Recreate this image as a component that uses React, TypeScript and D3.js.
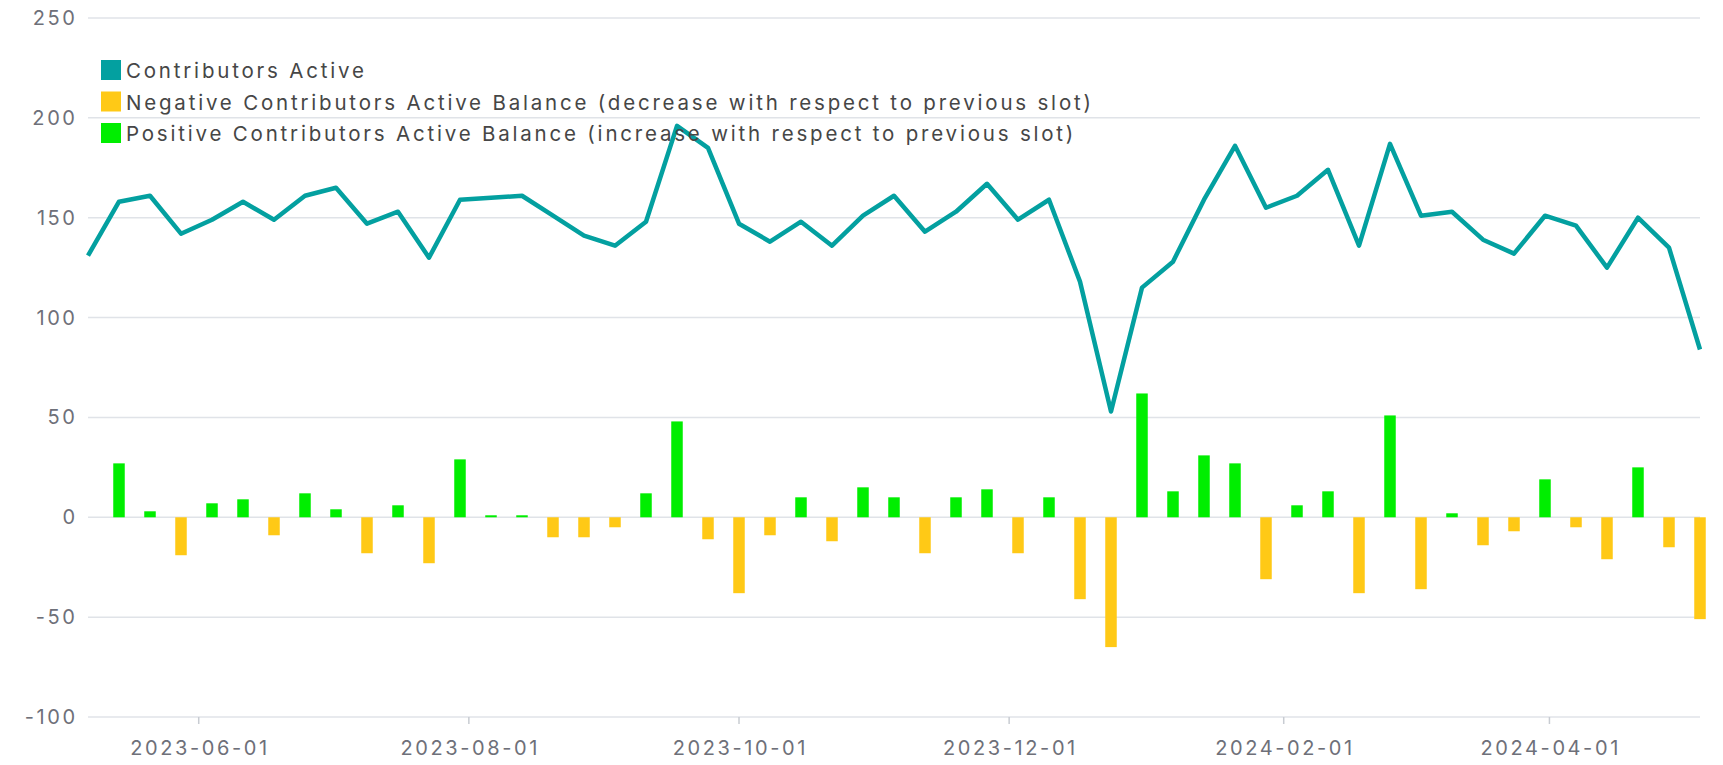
import React from "react";
import * as d3 from "d3";

// weekly slots
const dates = [
  "2023-05-07", "2023-05-14", "2023-05-21", "2023-05-28", "2023-06-04", "2023-06-11", "2023-06-18",
  "2023-06-25", "2023-07-02", "2023-07-09", "2023-07-16", "2023-07-23", "2023-07-30", "2023-08-06",
  "2023-08-13", "2023-08-20", "2023-08-27", "2023-09-03", "2023-09-10", "2023-09-17", "2023-09-24",
  "2023-10-01", "2023-10-08", "2023-10-15", "2023-10-22", "2023-10-29", "2023-11-05", "2023-11-12",
  "2023-11-19", "2023-11-26", "2023-12-03", "2023-12-10", "2023-12-17", "2023-12-24", "2023-12-31",
  "2024-01-07", "2024-01-14", "2024-01-21", "2024-01-28", "2024-02-04", "2024-02-11", "2024-02-18",
  "2024-02-25", "2024-03-03", "2024-03-10", "2024-03-17", "2024-03-24", "2024-03-31", "2024-04-07",
  "2024-04-14", "2024-04-21", "2024-04-28", "2024-05-05",
];

const contributorsActive = [
  131, 158, 161, 142, 149, 158, 149, 161, 165, 147, 153, 130, 159, 160, 161, 151, 141, 136, 148, 196,
  185, 147, 138, 148, 136, 151, 161, 143, 153, 167, 149, 159, 118, 53, 115, 128, 159, 186, 155, 161,
  174, 136, 187, 151, 153, 139, 132, 151, 146, 125, 150, 135, 84,
];

// balance vs previous slot, starts at dates[1]
const balance = [
  27, 3, -19, 7, 9, -9, 12, 4, -18, 6, -23, 29, 1, 1, -10, -10, -5, 12, 48, -11, -38, -9, 10, -12, 15,
  10, -18, 10, 14, -18, 10, -41, -65, 62, 13, 31, 27, -31, 6, 13, -38, 51, -36, 2, -14, -7, 19, -5,
  -21, 25, -15, -51,
];

const yTicks = [250, 200, 150, 100, 50, 0, -50, -100];
const xTickLabels = ["2023-06-01", "2023-08-01", "2023-10-01", "2023-12-01", "2024-02-01", "2024-04-01"];

const legendItems = [
  { name: "Contributors Active", color: "#03A0A0" },
  { name: "Negative Contributors Active Balance (decrease with respect to previous slot)", color: "#FFC916" },
  { name: "Positive Contributors Active Balance (increase with respect to previous slot)", color: "#00EE00" },
];

const W = 1723;
const H = 765;
const margin = { top: 18, right: 23, bottom: 48, left: 88 };

export default function App() {
  const parse = d3.timeParse("%Y-%m-%d");
  const x = d3
    .scaleTime()
    .domain([parse(dates[0]), parse(dates[dates.length - 1])])
    .range([margin.left, W - margin.right]);
  const y = d3.scaleLinear().domain([-100, 250]).range([H - margin.bottom, margin.top]);

  const line = d3
    .line<number>()
    .x((d, i) => x(parse(dates[i])))
    .y((d) => y(d));

  const barW = 11.5;
  const font = "Inter, 'Noto Sans', sans-serif";
  const ls = 2.6; // the reference text is spaced out

  return (
    <svg
      width={W}
      height={H}
      style={{ position: "absolute", left: 0, top: 0, background: "#fff" }}
      fontFamily={font}
      letterSpacing={ls}
    >
      {/* grid */}
      {yTicks.map((t) => (
        <g key={t}>
          <line x1={margin.left} x2={W - margin.right} y1={y(t)} y2={y(t)} stroke="#E0E3E8" strokeWidth={1.5} />
          <text x={margin.left - 13 + ls} y={y(t)} textAnchor="end" dominantBaseline="central" fontSize={20} fill="#6E7079">
            {t}
          </text>
        </g>
      ))}

      {/* x axis ticks */}
      {xTickLabels.map((d) => {
        const xx = x(parse(d));
        return (
          <g key={d}>
            <line x1={xx} x2={xx} y1={y(-100)} y2={y(-100) + 7} stroke="#C8CCD2" strokeWidth={1.5} />
            <text x={xx + ls / 2} y={755} textAnchor="middle" fontSize={20} fill="#6E7079">
              {d}
            </text>
          </g>
        );
      })}

      {/* bars */}
      {balance.map((v, i) => {
        const xx = x(parse(dates[i + 1]));
        return (
          <rect
            key={i}
            x={xx - barW / 2}
            width={barW}
            y={Math.min(y(v), y(0))}
            height={Math.abs(y(v) - y(0))}
            fill={v < 0 ? legendItems[1].color : legendItems[2].color}
          />
        );
      })}

      {/* line */}
      <path
        d={line(contributorsActive) || ""}
        fill="none"
        stroke={legendItems[0].color}
        strokeWidth={4.5}
        strokeLinejoin="round"
      />

      {/* legend */}
      {legendItems.map((it, i) => (
        <g key={it.name} transform={`translate(101,${60 + i * 31.5})`}>
          <rect width={20} height={20} fill={it.color} />
          <text x={25} y={10.5} dominantBaseline="central" fontSize={20.5} fill="#464646" letterSpacing={2.8}>
            {it.name}
          </text>
        </g>
      ))}
    </svg>
  );
}
